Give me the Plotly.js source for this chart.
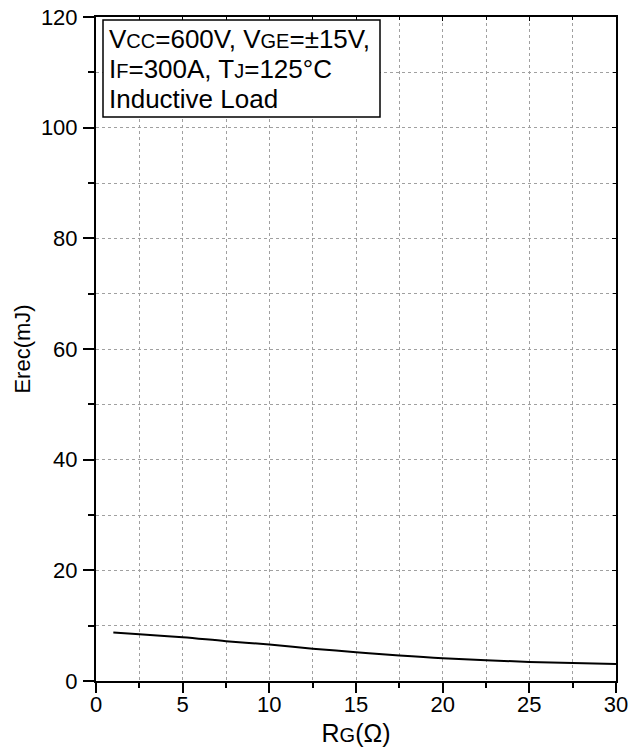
<!DOCTYPE html>
<html>
<head>
<meta charset="utf-8">
<script src="https://cdn.plot.ly/plotly-3.0.1.min.js"></script>
<style>html,body{margin:0;padding:0;background:#fff;}#chart{width:637px;height:752px;}</style>
</head>
<body>
<div id="chart"></div>
<script>
// Data
const rg = [1, 2.5, 5, 7.5, 10, 12.5, 15, 17.5, 20, 22.5, 25, 27.5, 30];
const erec = [8.75, 8.45, 7.9, 7.2, 6.6, 5.85, 5.2, 4.6, 4.1, 3.75, 3.45, 3.25, 3.05];
const xTicks = [0, 5, 10, 15, 20, 25, 30];
const yTicks = [0, 20, 40, 60, 80, 100, 120];
const sub = s => '<span style="font-size:20px">' + s + '</span>';
const noteLines = [
  'V' + sub('CC') + '=600V, V' + sub('GE') + '=±15V,',
  'I' + sub('F') + '=300A, T' + sub('J') + '=125°C',
  'Inductive Load'
];
const xTitle = 'R' + sub('G') + '(Ω)';
const yTitle = 'Erec(mJ)';

const font = 'Liberation Sans, Arial, sans-serif';

// plot area in pixels (for converting the note box placement to paper coords)
const W = 637, H = 752, mL = 96, mR = 21, mT = 17, mB = 71;
const pw = W - mL - mR, ph = H - mT - mB;
const px = v => (v - mL) / pw;
const py = v => (H - mB - v) / ph;

const traces = [
  {x: rg, y: erec, mode: 'lines', line: {color: '#000', width: 2, shape: 'spline'}, hoverinfo: 'skip', showlegend: false},
  {x: [0], y: [0], xaxis: 'x2', yaxis: 'y2', mode: 'markers', marker: {opacity: 0}, hoverinfo: 'skip', showlegend: false},
  {x: [0], y: [0], xaxis: 'x3', yaxis: 'y', mode: 'markers', marker: {opacity: 0}, hoverinfo: 'skip', showlegend: false}
];

const noteY = [39, 69, 99];
const annotations = noteLines.map((t, i) => ({
  xref: 'paper', yref: 'paper', x: px(107), y: py(noteY[i]), xanchor: 'left', yanchor: 'middle',
  text: t, align: 'left', showarrow: false,
  font: {size: 26, family: font, color: '#000'}
}));

const layout = {
  width: W, height: H,
  margin: {l: mL, r: mR, t: mT, b: mB},
  paper_bgcolor: '#fff', plot_bgcolor: '#fff',
  font: {family: font, color: '#000', size: 22},
  showlegend: false,
  xaxis: {
    range: [0, 30], tickvals: xTicks, ticktext: xTicks.map(String),
    showgrid: true, gridcolor: '#a0a0a0', griddash: 'dot', gridwidth: 1,
    zeroline: false, showline: true, linecolor: '#000', linewidth: 2,
    ticks: '', ticklabelstandoff: 3,
    tickfont: {size: 22, family: font},
    minor: {dtick: 2.5, showgrid: true, gridcolor: '#a0a0a0', griddash: 'dot'},
    title: {text: xTitle, font: {size: 25, family: font}, standoff: 8}
  },
  xaxis3: {
    overlaying: 'x', side: 'bottom', anchor: 'y', range: [0, 30], tickvals: xTicks,
    showgrid: false, zeroline: false, showline: false, showticklabels: false,
    ticks: 'outside', ticklen: 11, tickwidth: 2, tickcolor: '#000',
    minor: {dtick: 2.5, ticks: 'outside', ticklen: 6, tickwidth: 2, tickcolor: '#000'}
  },
  yaxis: {
    range: [0, 120], tickvals: yTicks, ticktext: yTicks.map(String),
    showgrid: true, gridcolor: '#a0a0a0', griddash: 'dot', gridwidth: 1,
    zeroline: false, showline: true, linecolor: '#000', linewidth: 2,
    ticks: 'outside', ticklen: 11, tickwidth: 2, tickcolor: '#000', ticklabelstandoff: 1,
    tickfont: {size: 22, family: font},
    minor: {dtick: 10, showgrid: true, gridcolor: '#a0a0a0', griddash: 'dot', ticks: 'outside', ticklen: 6, tickwidth: 2, tickcolor: '#000'},
    title: {text: yTitle, font: {size: 22, family: font}, standoff: 4}
  },
  xaxis2: {
    overlaying: 'x', side: 'top', anchor: 'y2', range: [0, 30], dtick: 5,
    showgrid: false, zeroline: false, showline: true, linecolor: '#000', linewidth: 2,
    ticks: 'inside', ticklen: 4, tickwidth: 1, tickcolor: '#000', showticklabels: false,
    minor: {dtick: 2.5, ticks: 'inside', ticklen: 3, tickcolor: '#000'}
  },
  yaxis2: {
    overlaying: 'y', side: 'right', anchor: 'x2', range: [0, 120], dtick: 20,
    showgrid: false, zeroline: false, showline: true, linecolor: '#000', linewidth: 2,
    ticks: 'inside', ticklen: 4, tickwidth: 1, tickcolor: '#000', showticklabels: false,
    minor: {dtick: 10, ticks: 'inside', ticklen: 3, tickcolor: '#000'}
  },
  shapes: [{
    type: 'rect', xref: 'paper', yref: 'paper',
    x0: px(103), x1: px(380), y0: py(117), y1: py(20),
    line: {color: '#000', width: 1.5}, fillcolor: '#fff', layer: 'above'
  }],
  annotations: annotations
};

Plotly.newPlot('chart', traces, layout, {displayModeBar: false, staticPlot: true});
</script>
</body>
</html>
